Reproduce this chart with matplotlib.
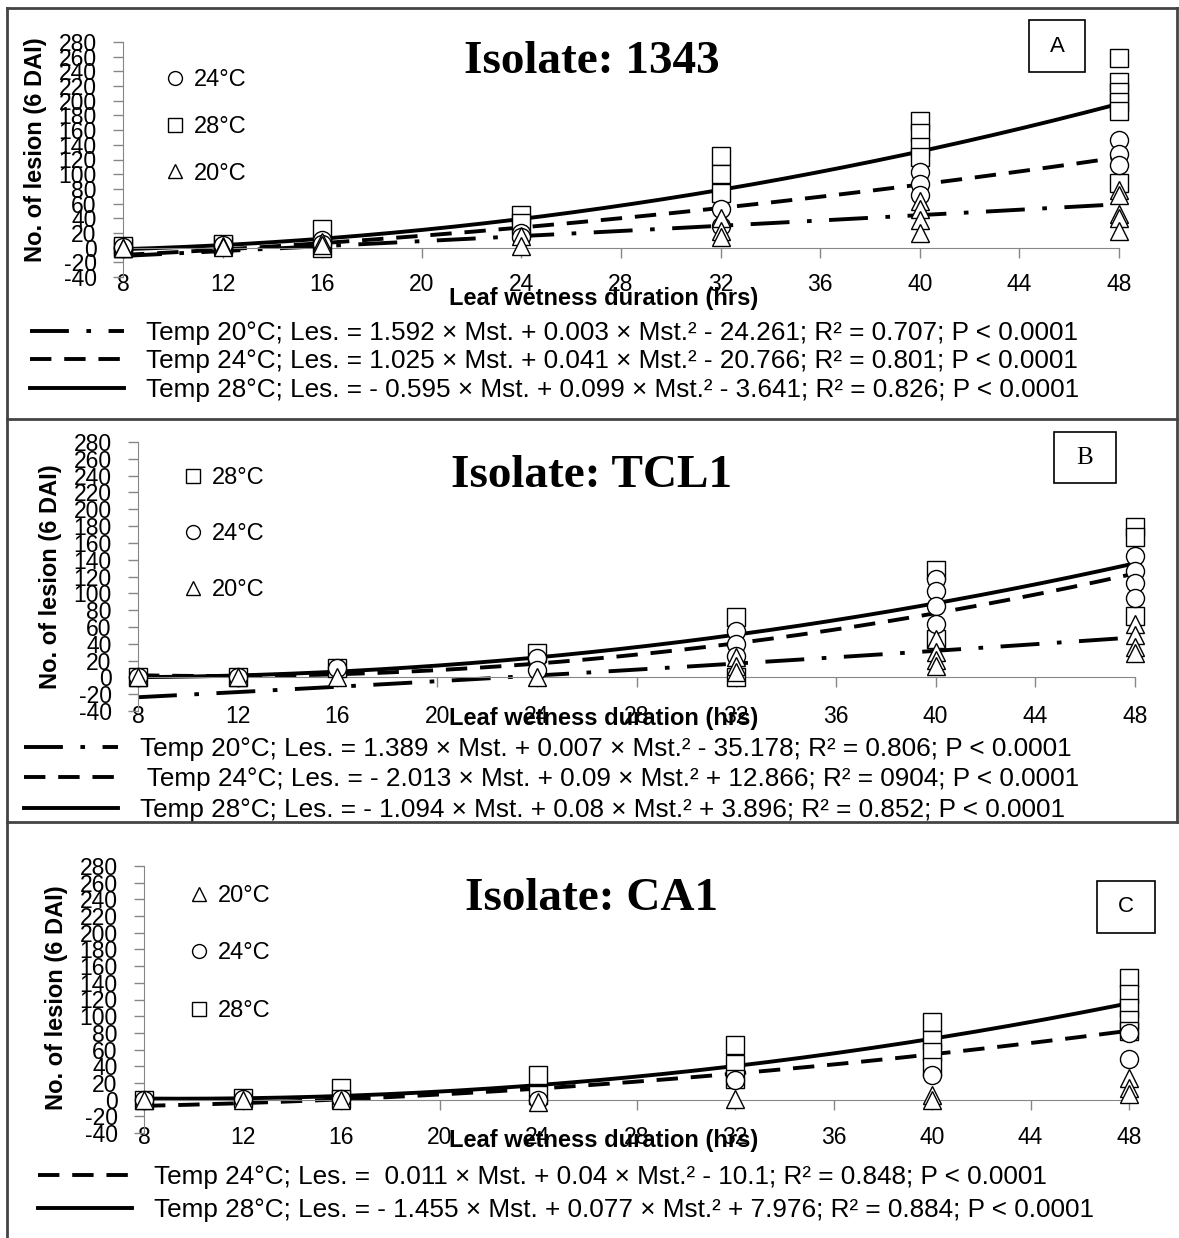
import numpy as np
import matplotlib.pyplot as plt
from matplotlib import font_manager
from matplotlib.lines import Line2D
from matplotlib.patches import Rectangle

W, H = 1179, 1238

names = {f.name for f in font_manager.fontManager.ttflist}
NARROW = 'Liberation Sans Narrow' if 'Liberation Sans Narrow' in names else 'Liberation Sans'
plt.rcParams['font.family'] = [NARROW, 'DejaVu Sans']
plt.rcParams['axes.unicode_minus'] = False

# ---- data (leaf wetness hrs, no. of lesions) ----
# isolate 1343
a28_x = [8, 8, 12, 12, 16, 16, 24, 24, 32, 32, 32, 40, 40, 40, 40, 48, 48, 48, 48, 48, 48]
a28_y = [0, 2, 3, 5, 26, 0, 44, 34, 125, 100, 74, 173, 156, 137, 124, 258, 225, 212, 198, 186, 88]
a24_x = [8, 8, 12, 12, 16, 16, 24, 24, 32, 32, 40, 40, 40, 48, 48, 48]
a24_y = [0, 1, 2, 3, 10, 5, 20, 14, 53, 30, 103, 87, 71, 146, 127, 113]
a20_x = [8, 8, 12, 12, 16, 16, 24, 24, 32, 32, 32, 40, 40, 40, 40, 48, 48, 48, 48, 48]
a20_y = [0, 0, 2, 1, 8, 3, 16, 2, 41, 23, 14, 64, 52, 37, 20, 78, 72, 46, 40, 23]

# isolate TCL1
b28_x = [8, 12, 16, 24, 32, 32, 40, 40, 48, 48, 48]
b28_y = [0, 1, 11, 29, 72, 0, 128, 46, 179, 167, 73]
b24_x = [8, 12, 16, 24, 24, 32, 32, 32, 40, 40, 40, 40, 48, 48, 48, 48]
b24_y = [0, 1, 11, 23, 9, 55, 40, 26, 117, 103, 85, 64, 144, 126, 112, 95]
b20_x = [8, 12, 16, 24, 32, 32, 32, 40, 40, 40, 40, 48, 48, 48, 48]
b20_y = [0, 1, 0, 0, 24, 14, 6, 46, 30, 21, 13, 64, 50, 36, 29]

# isolate CA1
c28_x = [8, 12, 16, 16, 24, 24, 32, 32, 32, 40, 40, 40, 40, 48, 48, 48, 48, 48]
c28_y = [0, 2, 14, 1, 29, 5, 66, 43, 25, 93, 71, 57, 39, 146, 127, 110, 95, 82]
c24_x = [8, 12, 16, 24, 32, 40, 48, 48]
c24_y = [0, 1, 1, 0, 24, 30, 80, 49]
c20_x = [8, 12, 16, 24, 32, 40, 40, 48, 48, 48]
c20_y = [0, 0, 0, -3, 1, 5, 0, 26, 14, 7]

# trendline coefficients from the equations (const, Mst., Mst.^2)
a_trend = {'20': [-24.261, 1.592, 0.003], '24': [-20.766, 1.025, 0.041], '28': [-3.641, -0.595, 0.099]}
b_trend = {'20': [-35.178, 1.389, 0.007], '24': [12.866, -2.013, 0.09], '28': [3.896, -1.094, 0.08]}
c_trend = {'24': [-10.1, 0.011, 0.04], '28': [7.976, -1.455, 0.077]}

a_eq = ['Temp 20°C; Les. = 1.592 × Mst. + 0.003 × Mst.² - 24.261; R² = 0.707; P < 0.0001',
        'Temp 24°C; Les. = 1.025 × Mst. + 0.041 × Mst.² - 20.766; R² = 0.801; P < 0.0001',
        'Temp 28°C; Les. = - 0.595 × Mst. + 0.099 × Mst.² - 3.641; R² = 0.826; P < 0.0001']
b_eq = ['Temp 20°C; Les. = 1.389 × Mst. + 0.007 × Mst.² - 35.178; R² = 0.806; P < 0.0001',
        ' Temp 24°C; Les. = - 2.013 × Mst. + 0.09 × Mst.² + 12.866; R² = 0904; P < 0.0001',
        'Temp 28°C; Les. = - 1.094 × Mst. + 0.08 × Mst.² + 3.896; R² = 0.852; P < 0.0001']
c_eq = ['Temp 24°C; Les. =  0.011 × Mst. + 0.04 × Mst.² - 10.1; R² = 0.848; P < 0.0001',
        'Temp 28°C; Les. = - 1.455 × Mst. + 0.077 × Mst.² + 7.976; R² = 0.884; P < 0.0001']

x_ticks = np.arange(8, 49, 4)
y_ticks = np.arange(-40, 281, 20)

MARK = {'20': '^', '24': 'o', '28': 's'}
MSIZE = {'20': 13, '24': 13, '28': 12.5}
LSTYLE = {'20': (0, (10, 4.5, 1.2, 4.5)), '24': (0, (5.5, 3.3)), '28': '-'}
GREY = '#868686'

fig = plt.figure(figsize=(W / 100, H / 100), dpi=100)


def fpx(x, y):
    return x / W, 1 - y / H


def add_ax(left, top, right, bottom):
    return fig.add_axes([left / W, 1 - bottom / H, (right - left) / W, (bottom - top) / H])


def panel(ax, series, trend, eqs, leg_order, leg_xy, leg_space, eq_xy, eq_space,
          title, title_y, letter, letter_box, letter_font, xlab_y, ylab_xy, xpad):
    for t in ['28', '24', '20']:
        if t in series:
            xs, ys = series[t]
            ax.plot(xs, ys, ls='none', marker=MARK[t], ms=MSIZE[t], mfc='white',
                    mec='black', mew=1.0, zorder=3, clip_on=False)
    lines = []
    for t in ['20', '24', '28']:
        if t in trend:
            xx = np.linspace(8, 48, 200)
            yy = np.polynomial.Polynomial(trend[t])(xx)
            ln, = ax.plot(xx, yy, color='black', lw=2.8, ls=LSTYLE[t], zorder=2)
            lines.append(ln)

    ax.set_xlim(8, 48)
    ax.set_ylim(-40, 280)
    ax.set_xticks(x_ticks)
    ax.set_yticks(y_ticks)
    ax.spines['bottom'].set_position(('data', 0))
    ax.spines[['top', 'right']].set_visible(False)
    for s in ['left', 'bottom']:
        ax.spines[s].set_color(GREY)
    ax.tick_params(direction='out', color=GREY, length=7, width=1, labelsize=16.5)
    ax.tick_params(axis='x', pad=xpad)
    ax.tick_params(axis='y', pad=12)
    ax.patch.set_alpha(0)

    handles = [Line2D([], [], ls='none', marker=MARK[t], ms=10, mfc='white', mec='black', mew=1)
               for t in leg_order]
    leg = ax.legend(handles, [t + '°C' for t in leg_order], loc='upper left',
                    bbox_to_anchor=fpx(*leg_xy), bbox_transform=fig.transFigure,
                    frameon=False, fontsize=17, labelspacing=leg_space, handlelength=1.0,
                    handletextpad=0.3, borderpad=0, borderaxespad=0)
    ax.add_artist(leg)
    ax.legend(lines, eqs, loc='upper left', bbox_to_anchor=fpx(*eq_xy),
              bbox_transform=fig.transFigure, frameon=False, fontsize=18.8,
              labelspacing=eq_space, handlelength=3.6, handletextpad=0.85,
              borderpad=0, borderaxespad=0)

    fig.text(*fpx(592, title_y), title, family='Liberation Serif', weight='bold',
             fontsize=34, ha='center', va='baseline')
    l, t_, r, b = letter_box
    fig.add_artist(Rectangle(fpx(l, b), (r - l) / W, (b - t_) / H, transform=fig.transFigure,
                             fill=False, ec='black', lw=1.2))
    fig.text(*fpx((l + r) / 2, (t_ + b) / 2), letter, ha='center', va='center', **letter_font)
    fig.text(*fpx(604, xlab_y), 'Leaf wetness duration (hrs)', weight='bold', fontsize=17,
             ha='center', va='center')
    fig.text(*fpx(*ylab_xy), 'No. of lesion (6 DAI)', family='Liberation Sans', weight='bold',
             fontsize=17, rotation=90, ha='center', va='center')


axA = add_ax(123, 42, 1119, 277)
panel(axA, {'28': (a28_x, a28_y), '24': (a24_x, a24_y), '20': (a20_x, a20_y)}, a_trend, a_eq,
      ['24', '28', '20'], (163, 69), 1.05, (30, 321), 0.17,
      'Isolate: 1343', 73, 'A', (1029, 20, 1085, 72), dict(fontsize=16),
      298, (36, 150), 11)

axB = add_ax(138, 442, 1135, 711)
panel(axB, {'28': (b28_x, b28_y), '24': (b24_x, b24_y), '20': (b20_x, b20_y)}, b_trend, b_eq,
      ['28', '24', '20'], (181, 467), 1.45, (24, 737), 0.245,
      'Isolate: TCL1', 487, 'B', (1054, 432, 1116, 483), dict(fontsize=18, family='Liberation Serif'),
      719, (51, 577), 13)

axC = add_ax(144, 866, 1129, 1133)
panel(axC, {'28': (c28_x, c28_y), '24': (c24_x, c24_y), '20': (c20_x, c20_y)}, c_trend, c_eq,
      ['20', '24', '28'], (187, 885), 1.5, (38, 1165), 0.36,
      'Isolate: CA1', 910, 'C', (1097, 881, 1155, 933), dict(fontsize=16),
      1141, (56, 998), 12)

# panel frames
frame = dict(color='#444444', lw=2, transform=fig.transFigure)
for (x0, y0, x1, y1) in [(7, 8, 1177, 8), (7, 8, 7, 1238), (1177, 8, 1177, 822),
                         (7, 419, 1177, 419), (7, 822, 1177, 822)]:
    fig.add_artist(Line2D([x0 / W, x1 / W], [1 - y0 / H, 1 - y1 / H], **frame))

fig.savefig('out.png', dpi=100)
